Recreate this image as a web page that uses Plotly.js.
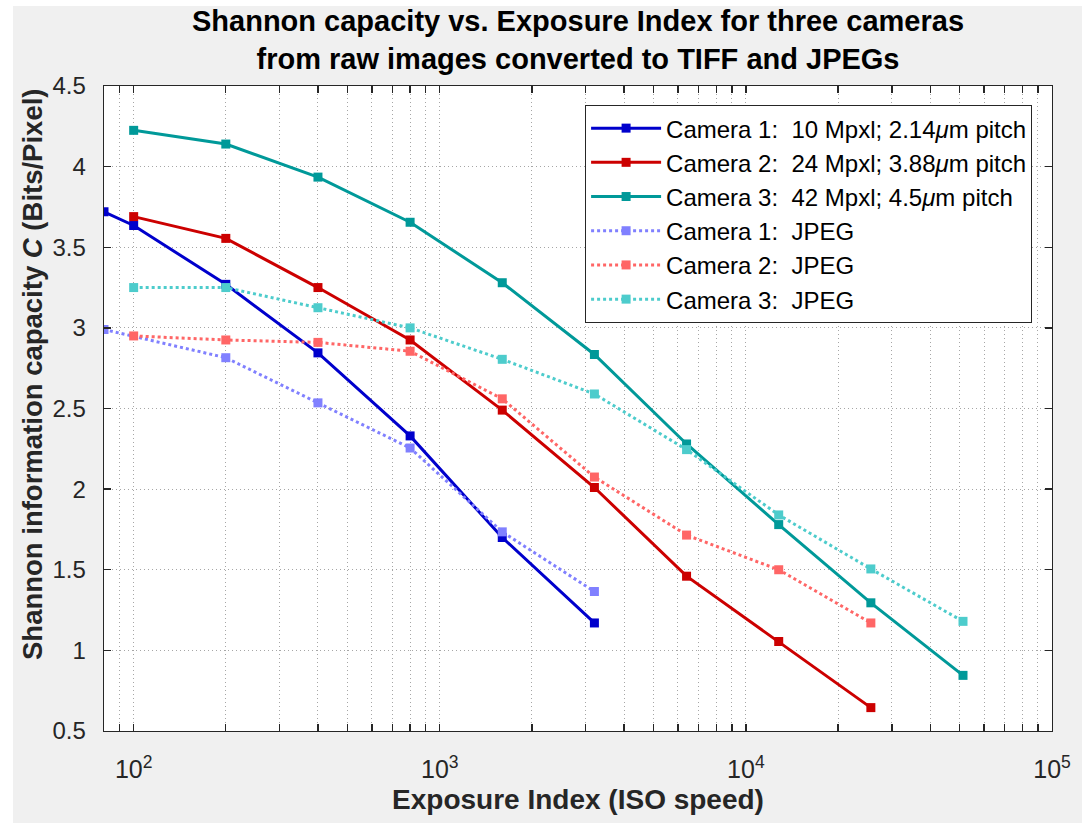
<!DOCTYPE html>
<html>
<head>
<meta charset="utf-8">
<script src="https://cdn.plot.ly/plotly-3.0.1.min.js"></script>
<style>html,body{margin:0;padding:0;background:#fff;}#chart{width:1082px;height:823px;}</style>
</head>
<body>
<div id="chart"></div>
<script>
// ---- data ----
const cam1Iso = [80, 100, 200, 400, 800, 1600, 3200];
const cam1Raw = [3.72, 3.635, 3.27, 2.845, 2.33, 1.70, 1.17];
const cam2Iso = [100, 200, 400, 800, 1600, 3200, 6400, 12800, 25600];
const cam2Raw = [3.69, 3.555, 3.25, 2.925, 2.49, 2.01, 1.46, 1.055, 0.645];
const cam3Iso = [100, 200, 400, 800, 1600, 3200, 6400, 12800, 25600, 51200];
const cam3Raw = [4.225, 4.14, 3.935, 3.655, 3.28, 2.835, 2.28, 1.78, 1.295, 0.845];
const cam1JpgIso = [80, 200, 400, 800, 1600, 3200];
const cam1Jpg = [2.99, 2.815, 2.535, 2.255, 1.735, 1.365];
const cam2JpgIso = [100, 200, 400, 800, 1600, 3200, 6400, 12800, 25600];
const cam2Jpg = [2.95, 2.925, 2.91, 2.855, 2.56, 2.075, 1.715, 1.50, 1.17];
const cam3JpgIso = [100, 200, 400, 800, 1600, 3200, 6400, 12800, 25600, 51200];
const cam3Jpg = [3.25, 3.25, 3.125, 3.00, 2.805, 2.59, 2.245, 1.84, 1.505, 1.18];

const seriesNames = [
  'Camera 1:\u00A0 10 Mpxl; 2.14<i>μ</i>m pitch',
  'Camera 2:\u00A0 24 Mpxl; 3.88<i>μ</i>m pitch',
  'Camera 3:\u00A0 42 Mpxl; 4.5<i>μ</i>m pitch',
  'Camera 1:\u00A0 JPEG',
  'Camera 2:\u00A0 JPEG',
  'Camera 3:\u00A0 JPEG'
];

const titleText = '<b>Shannon capacity vs. Exposure Index for three cameras<br>from raw images converted to TIFF and JPEGs</b>';
const xTitleText = '<b>Exposure Index (ISO speed)</b>';
const yTitleText = '<b>Shannon information capacity <i>C</i> (Bits/Pixel)</b>';

const xTickVals = [100, 1000, 10000, 100000];
const xTickText = ['10<sup>2</sup>', '10<sup>3</sup>', '10<sup>4</sup>', '10<sup>5</sup>'];
const xMinorVals = [90, 200, 300, 400, 500, 600, 700, 800, 900,
  2000, 3000, 4000, 5000, 6000, 7000, 8000, 9000,
  20000, 30000, 40000, 50000, 60000, 70000, 80000, 90000];
const yTickVals = [0.5, 1, 1.5, 2, 2.5, 3, 3.5, 4, 4.5];
const yTickText = ['0.5', '1', '1.5', '2', '2.5', '3', '3.5', '4', '4.5'];

// ---- styles ----
const colors = ['#0000CC', '#CC0000', '#009999', '#8080FF', '#FF6666', '#4DCCCC'];
const xs = [cam1Iso, cam2Iso, cam3Iso, cam1JpgIso, cam2JpgIso, cam3JpgIso];
const ys = [cam1Raw, cam2Raw, cam3Raw, cam1Jpg, cam2Jpg, cam3Jpg];

const traces = xs.map((x, i) => ({
  x: x, y: ys[i], type: 'scatter', mode: 'lines+markers',
  name: seriesNames[i],
  line: {color: colors[i], width: 3, dash: i < 3 ? 'solid' : 'dot'},
  marker: {symbol: 'square', size: 9, color: colors[i]}
}));

const FAM = 'Liberation Sans, Arial, sans-serif';
const gridStyle = {showgrid: true, gridcolor: '#A6A6A6', griddash: '1px,3px', gridwidth: 1};

const layout = {
  width: 1082, height: 823,
  paper_bgcolor: '#F0F0F0', plot_bgcolor: '#FFFFFF',
  margin: {l: 104, r: 30, t: 86, b: 92},
  font: {family: FAM, color: '#262626'},
  showlegend: true,
  legend: {
    x: 0.979, xanchor: 'right', y: 0.9705, yanchor: 'top',
    bgcolor: '#FFFFFF', bordercolor: '#262626', borderwidth: 1,
    font: {family: FAM, size: 24, color: '#000000'},
    itemwidth: 70
  },
  xaxis: Object.assign({
    type: 'log', range: [Math.log10(80), 5],
    tickmode: 'array', tickvals: xTickVals, ticktext: xTickText,
    ticks: 'inside', ticklen: 7, tickwidth: 1.3, tickcolor: '#262626',
    showline: true, linecolor: '#262626', linewidth: 1.3, mirror: 'ticks',
    zeroline: false,
    tickfont: {family: FAM, size: 25, color: '#262626'},
    ticklabelstandoff: 16,
    minor: Object.assign({tickmode: 'array', tickvals: xMinorVals, ticks: 'inside', ticklen: 7, tickwidth: 1.3, tickcolor: '#262626'}, gridStyle),
    title: {text: xTitleText, font: {family: FAM, size: 28, color: '#262626'}, standoff: 7}
  }, gridStyle),
  yaxis: Object.assign({
    range: [0.5, 4.5],
    tickmode: 'array', tickvals: yTickVals, ticktext: yTickText,
    ticks: 'inside', ticklen: 7, tickwidth: 1.3, tickcolor: '#262626',
    showline: true, linecolor: '#262626', linewidth: 1.3, mirror: 'ticks',
    zeroline: false,
    tickfont: {family: FAM, size: 24, color: '#262626'},
    ticklabelstandoff: 12
  }, gridStyle),
  annotations: [{
    text: titleText, xref: 'paper', yref: 'paper', x: 0.5, y: (731 - 3) / 645,
    xanchor: 'center', yanchor: 'top', showarrow: false,
    font: {family: FAM, size: 29, color: '#000000'}
  }, {
    text: yTitleText, xref: 'paper', yref: 'paper', x: (32 - 104) / 948, y: (731 - 374) / 645,
    xanchor: 'center', yanchor: 'middle', textangle: -90, showarrow: false,
    font: {family: FAM, size: 27.5, color: '#262626'}
  }],
  shapes: [
    {type: 'rect', xref: 'paper', yref: 'paper', layer: 'below',
     x0: -104 / 948, x1: -91 / 948, y0: -92 / 645, y1: 737 / 645,
     fillcolor: '#FFFFFF', line: {width: 0}},
    {type: 'rect', xref: 'paper', yref: 'paper', layer: 'below',
     x0: -104 / 948, x1: 978 / 948, y0: 725 / 645, y1: 737 / 645,
     fillcolor: '#FFFFFF', line: {width: 0}}
  ]
};

Plotly.newPlot('chart', traces, layout, {displayModeBar: false, staticPlot: true});
</script>
</body>
</html>
